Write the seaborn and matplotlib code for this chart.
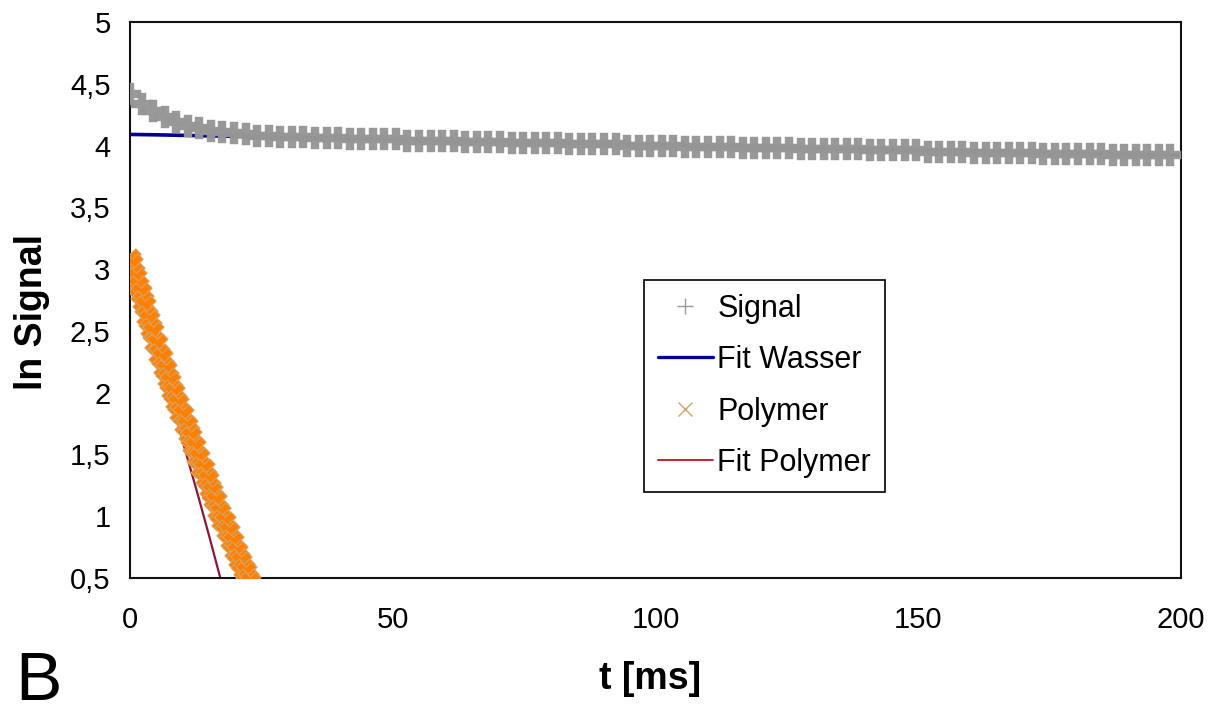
import matplotlib
matplotlib.use("Agg")
import matplotlib.pyplot as plt
import seaborn as sns
import pandas as pd
from matplotlib.lines import Line2D
from matplotlib.ticker import FixedLocator, FixedFormatter

# ---------------- data ----------------
signal_t = [0.0, 2.2, 4.4, 6.6, 8.8, 11.0, 13.2, 15.4, 17.6, 19.8,
            22.0, 24.2, 26.4, 28.6, 30.8, 33.0, 35.2, 37.4, 39.6, 41.8,
            44.0, 46.2, 48.4, 50.6, 52.8, 55.0, 57.2, 59.4, 61.6, 63.8,
            66.0, 68.2, 70.4, 72.6, 74.8, 77.0, 79.2, 81.4, 83.6, 85.8,
            88.0, 90.2, 92.4, 94.6, 96.8, 99.0, 101.2, 103.4, 105.6, 107.8,
            110.0, 112.2, 114.4, 116.6, 118.8, 121.0, 123.2, 125.4, 127.6, 129.8,
            132.0, 134.2, 136.4, 138.6, 140.8, 143.0, 145.2, 147.4, 149.6, 151.8,
            154.0, 156.2, 158.4, 160.6, 162.8, 165.0, 167.2, 169.4, 171.6, 173.8,
            176.0, 178.2, 180.4, 182.6, 184.8, 187.0, 189.2, 191.4, 193.6, 195.8,
            198.0]
signal_v = [4.42, 4.34, 4.28, 4.23, 4.19, 4.16, 4.14, 4.12, 4.11, 4.10,
            4.09, 4.08, 4.08, 4.07, 4.07, 4.07, 4.06, 4.06, 4.06, 4.05,
            4.05, 4.05, 4.05, 4.05, 4.04, 4.04, 4.04, 4.04, 4.04, 4.03,
            4.03, 4.03, 4.03, 4.02, 4.02, 4.02, 4.02, 4.02, 4.01, 4.01,
            4.01, 4.01, 4.01, 4.00, 4.00, 4.00, 4.00, 4.00, 3.99, 3.99,
            3.99, 3.99, 3.99, 3.98, 3.98, 3.98, 3.98, 3.98, 3.97, 3.97,
            3.97, 3.97, 3.97, 3.97, 3.96, 3.96, 3.96, 3.96, 3.96, 3.95,
            3.95, 3.95, 3.95, 3.94, 3.94, 3.94, 3.94, 3.94, 3.94, 3.93,
            3.93, 3.93, 3.93, 3.93, 3.93, 3.92, 3.92, 3.92, 3.92, 3.92,
            3.92]

fit_wasser_t = [0.0, 4.8, 201.5]
fit_wasser_v = [4.09, 4.087, 3.92]

polymer_t = [0.0, 0.4, 0.8, 1.2, 1.6, 2.0, 2.4, 2.8, 3.2, 3.6,
             4.0, 4.4, 4.8, 5.2, 5.6, 6.0, 6.4, 6.8, 7.2, 7.6,
             8.0, 8.4, 8.8, 9.2, 9.6, 10.0, 10.4, 10.8, 11.2, 11.6,
             12.0, 12.4, 12.8, 13.2, 13.6, 14.0, 14.4, 14.8, 15.2, 15.6,
             16.0, 16.4, 16.8, 17.2, 17.6, 18.0, 18.4, 18.8, 19.2, 19.6,
             20.0, 20.4, 20.8, 21.2, 21.6, 22.0, 22.4, 22.8, 23.2, 23.6,
             24.0]
polymer_v = [3.08, 3.04, 2.97, 2.93, 2.86, 2.81, 2.74, 2.70, 2.62, 2.59,
             2.52, 2.49, 2.41, 2.39, 2.31, 2.28, 2.21, 2.18, 2.12, 2.09,
             2.02, 2.00, 1.93, 1.91, 1.84, 1.82, 1.75, 1.73, 1.67, 1.64,
             1.58, 1.56, 1.49, 1.47, 1.40, 1.38, 1.32, 1.29, 1.23, 1.20,
             1.14, 1.12, 1.05, 1.03, 0.97, 0.95, 0.89, 0.87, 0.81, 0.79,
             0.73, 0.71, 0.65, 0.63, 0.57, 0.55, 0.49, 0.47, 0.41, 0.39,
             0.33]

fit_poly_t = [0.0, 3.0, 6.0, 9.0, 11.0, 13.0, 15.0, 17.0, 18.0]
fit_poly_v = [3.05, 2.62, 2.19, 1.76, 1.46, 1.16, 0.85, 0.53, 0.37]

x_ticks = [0, 50, 100, 150, 200]
x_labels = ["0", "50", "100", "150", "200"]
y_ticks = [0.5, 1, 1.5, 2, 2.5, 3, 3.5, 4, 4.5, 5]
y_labels = ["0,5", "1", "1,5", "2", "2,5", "3", "3,5", "4", "4,5", "5"]

# ---------------- style ----------------
sns.set_style("white")
plt.rcParams["font.family"] = ["Liberation Sans", "DejaVu Sans"]
plt.rcParams["text.color"] = "black"
plt.rcParams["axes.labelcolor"] = "black"

fig = plt.figure(figsize=(12.12, 7.15), dpi=100)
ax = fig.add_axes([130 / 1212, 1 - 578 / 715, 1051 / 1212, 556 / 715])

c_signal = "#969696"
c_wasser = "#000099"
c_poly = "#FF7F00"
c_poly_edge = "#D9A15E"
c_fitpoly = "#8E1538"

df_sig = pd.DataFrame({"t": signal_t, "v": signal_v})
df_poly = pd.DataFrame({"t": polymer_t, "v": polymer_v})
df_fw = pd.DataFrame({"t": fit_wasser_t, "v": fit_wasser_v})
df_fp = pd.DataFrame({"t": fit_poly_t, "v": fit_poly_v})

sns.lineplot(data=df_fw, x="t", y="v", ax=ax, color=c_wasser, lw=2.6,
             zorder=2, sort=False)
sns.scatterplot(data=df_sig, x="t", y="v", ax=ax, marker="P", s=240,
                color=c_signal, edgecolor=c_signal, linewidth=0.3,
                alpha=0.97, zorder=3)
sns.lineplot(data=df_fp, x="t", y="v", ax=ax, color=c_fitpoly, lw=1.6,
             zorder=2, sort=False)
sns.scatterplot(data=df_poly, x="t", y="v", ax=ax, marker="X", s=230,
                color=c_poly, edgecolor=c_poly_edge, linewidth=0.9, zorder=3)

ax.set_xlim(0, 200)
ax.set_ylim(0.5, 5)
ax.xaxis.set_major_locator(FixedLocator(x_ticks))
ax.xaxis.set_major_formatter(FixedFormatter(x_labels))
ax.yaxis.set_major_locator(FixedLocator(y_ticks))
ax.yaxis.set_major_formatter(FixedFormatter(y_labels))
ax.tick_params(axis="both", direction="out", length=8, width=1.5,
               color="black", labelsize=21, pad=6, labelcolor="black")
ax.tick_params(axis="x", pad=12)
for sp in ax.spines.values():
    sp.set_visible(True)
    sp.set_color("#111111")
    sp.set_linewidth(1.5)

ax.set_xlabel("t [ms]", fontsize=27, fontweight="bold")
ax.set_ylabel("ln Signal", fontsize=27, fontweight="bold")
ax.xaxis.set_label_coords(0.495, -0.15)
ax.yaxis.set_label_coords(-0.076, 0.478)

handles = [
    Line2D([], [], ls="none", marker="+", ms=11, mew=1, color="#999999"),
    Line2D([], [], color=c_wasser, lw=2.4),
    Line2D([], [], ls="none", marker="x", ms=10, mew=1, color=c_poly_edge),
    Line2D([], [], color="#C01020", lw=1.3),
]
leg = ax.legend(handles, ["Signal", "Fit Wasser", "Polymer", "Fit Polymer"],
                loc="upper left", bbox_to_anchor=(0.489, 0.536),
                fontsize=22, frameon=True, fancybox=False, framealpha=1,
                edgecolor="black", handlelength=1.8, handletextpad=0.15,
                labelspacing=0.7, borderpad=0.45, borderaxespad=0)
leg.get_frame().set_linewidth(1.2)
for txt in leg.get_texts():
    txt.set_color("black")

fig.text(15 / 1212, 1 - 700 / 715, "B", fontsize=50, ha="left",
         va="baseline", color="black")

fig.savefig("out.png", dpi=100, facecolor="white")
